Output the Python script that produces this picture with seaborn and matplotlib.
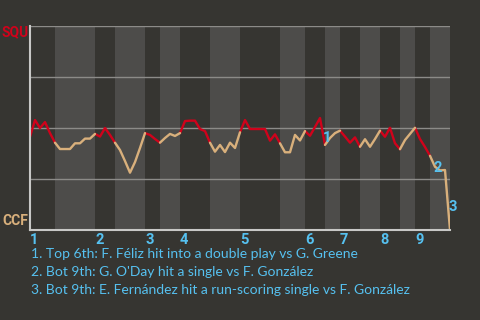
import numpy as np
import pandas as pd
import matplotlib
matplotlib.use("Agg")
import matplotlib.pyplot as plt
import seaborn as sns

# ---- data ----
half_counts = [5, 8, 4, 6, 3, 4, 6, 6, 8, 5, 4, 3, 4, 4, 4, 3, 3, 4]
wp = [0.457, 0.539, 0.500, 0.529, 0.475, 0.428,
      0.397, 0.397, 0.397, 0.425, 0.425, 0.448, 0.448, 0.471,
      0.458, 0.500, 0.466, 0.428,
      0.392, 0.338, 0.281, 0.333, 0.402, 0.475,
      0.466, 0.446, 0.428,
      0.451, 0.471, 0.461, 0.475,
      0.534, 0.536, 0.536, 0.495, 0.485, 0.428,
      0.384, 0.417, 0.382, 0.428, 0.402, 0.479,
      0.539, 0.495, 0.495, 0.495, 0.495, 0.438, 0.469, 0.425,
      0.381, 0.381, 0.466, 0.439, 0.485,
      0.462, 0.505, 0.549, 0.417,
      0.451, 0.475, 0.487,
      0.458, 0.428, 0.454, 0.408,
      0.445, 0.408, 0.446, 0.487,
      0.457, 0.501, 0.425, 0.396,
      0.441, 0.471, 0.501,
      0.446, 0.407, 0.364,
      0.310, 0.292, 0.294, 0.000]
innings = ["1", "2", "3", "4", "5", "6", "7", "8", "9"]
team_top = "SQU"
team_bottom = "CCF"
note_events = [59, 81, 84]
note_marks = ["1", "2", "3"]
notes = ["1. Top 6th: F. Féliz hit into a double play vs G. Greene",
         "2. Bot 9th: G. O'Day hit a single vs F. González",
         "3. Bot 9th: E. Fernández hit a run-scoring single vs F. González"]

# ---- style ----
BG = "#363531"
BAND = "#4d4c4a"
GRID = "#8c8b88"
AXIS = "#c8c8c6"
RED = "#d0021b"
TAN = "#d9b07c"
BLUE = "#56c1f0"
FONT = ["Lato", "DejaVu Sans"]
BOLDFONT = ["Roboto", "DejaVu Sans"]

sns.set_theme(style="white")
plt.rcParams["font.family"] = FONT

edges = np.concatenate([[0], np.cumsum(half_counts)])
rows = []
for k in range(len(half_counts)):
    s, e = edges[k], edges[k + 1]
    for i in range(s, e + 1):
        rows.append({"event": i, "wp": wp[i],
                     "half": "top" if k % 2 == 0 else "bottom", "seg": k})
df = pd.DataFrame(rows)

fig = plt.figure(figsize=(4.8, 3.2), dpi=100, facecolor=BG)
ax = fig.add_axes([30 / 480, 90 / 320, 420 / 480, 204 / 320])
ax.set_facecolor(BG)

for k in range(1, len(half_counts), 2):
    ax.axvspan(edges[k], edges[k + 1], color=BAND, lw=0, zorder=0)
for yv in [0.25, 0.5, 0.75, 1.0]:
    ax.axhline(yv, color=GRID, lw=1.0, zorder=1)

sns.lineplot(data=df, x="event", y="wp", hue="half", units="seg",
             estimator=None, palette={"top": RED, "bottom": TAN},
             legend=False, lw=1.7, ax=ax, zorder=3)

ax.set_xlim(0, edges[-1])
ax.set_ylim(0, 1)
ax.set_xlabel("")
ax.set_ylabel("")
for sp in ["top", "right"]:
    ax.spines[sp].set_visible(False)
for sp in ["left", "bottom"]:
    ax.spines[sp].set_color(AXIS)
    ax.spines[sp].set_linewidth(1.5)
    ax.spines[sp].set_zorder(4)
ax.set_yticks([])
ax.set_xticks(edges[0:-1:2])
ax.set_xticklabels(innings, ha="left", color=BLUE, fontweight="bold",
                   fontsize=10.5, family=BOLDFONT)
ax.tick_params(axis="x", length=0, pad=2)
for lab in ax.get_xticklabels():
    lab.set_x(lab.get_position()[0])

for ev, mk in zip(note_events, note_marks):
    mx = ev - 0.5
    my = (wp[ev - 1] + wp[ev]) / 2
    ax.annotate(mk, xy=(mx, my), xytext=(5, -7), textcoords="offset pixels",
                ha="center", va="center", color=BLUE, fontweight="bold",
                fontsize=10.5, family=BOLDFONT, zorder=5,
                annotation_clip=False)

fig.text(2 / 480, 1 - 32 / 320, team_top, color=RED, fontweight="bold",
         fontsize=10, family=BOLDFONT, ha="left", va="center")
fig.text(2 / 480, 1 - 221 / 320, team_bottom, color=TAN, fontweight="bold",
         fontsize=10, family=BOLDFONT, ha="left", va="center")

for j, t in enumerate(notes):
    fig.text(31 / 480, 1 - (254 + 18 * j) / 320, t, color=BLUE,
             fontsize=10, ha="left", va="center")

fig.savefig("out.png", dpi=100, facecolor=BG)
